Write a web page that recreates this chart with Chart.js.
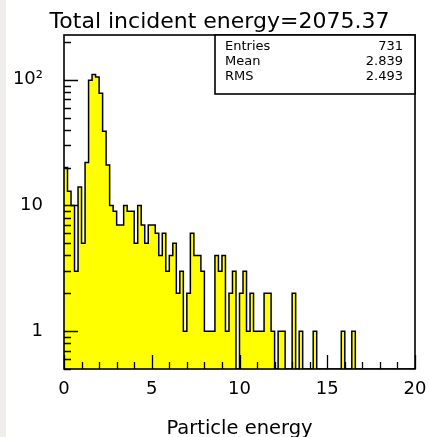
<!DOCTYPE html>
<html>
<head>
<meta charset="utf-8">
<script src="https://cdn.jsdelivr.net/npm/chart.js@4.4.1/dist/chart.umd.min.js"></script>
<style>
  html, body { margin: 0; padding: 0; background: #efeeec; }
  #pad { position: absolute; left: 6px; top: 0; width: 423px; height: 437px; background: #fff; }
</style>
</head>
<body>
<div id="pad"><canvas id="c" width="423" height="437"></canvas></div>
<script>
// energy spectrum, 100 bins from 0 to 20
const xLow = 0;
const xHigh = 20;
const counts = [
  20, 13, 10, 3, 14, 5, 22, 99, 110, 105,
  78, 39, 21, 10, 9, 7, 7, 10, 9, 9,
  5, 10, 7, 5, 7, 7, 6, 4, 6, 3,
  4, 5, 2, 3, 1, 2, 6, 4, 4, 3,
  1, 1, 1, 4, 3, 4, 1, 2, 3, 0,
  2, 3, 1, 2, 1, 1, 1, 2, 2, 1,
  0, 1, 1, 0, 0, 2, 0, 1, 0, 0,
  0, 1, 0, 0, 0, 0, 0, 0, 0, 1,
  0, 0, 1, 0, 0, 0, 0, 0, 0, 0,
  0, 0, 0, 0, 0, 0, 0, 0, 0, 0
];
const yMin = 0.5;
const yMax = 227;
const xTickValues = [0, 5, 10, 15, 20];
const yTickValues = [1, 10, 100];
const yTickLabels = ['1', '10', '10\u00b2'];
const statNames = ['Entries', 'Mean', 'RMS'];
const statValues = ['731', '2.839', '2.493'];
const titleText = 'Total incident energy=2075.37';
const xTitle = 'Particle energy';

const FONT = 'DejaVu Sans';

// left edge of every bin, plus the closing edge
const binWidth = (xHigh - xLow) / counts.length;
const points = counts.map((c, i) => ({ x: xLow + i * binWidth, y: c > 0 ? c : yMin }));
points.push({ x: xHigh, y: points[points.length - 1].y });

// frame, inward tick marks and the stats box
const histFrame = {
  id: 'histFrame',
  afterDatasetsDraw(chart) {
    const { ctx, chartArea: a, scales: { x, y } } = chart;
    ctx.save();
    ctx.strokeStyle = '#000';
    ctx.lineWidth = 1.3;
    ctx.beginPath();
    for (let v = xLow; v <= xHigh; v++) {
      const px = Math.round(x.getPixelForValue(v)) + 0.5;
      const len = v % 5 === 0 ? 14 : 7;
      ctx.moveTo(px, a.bottom);
      ctx.lineTo(px, a.bottom - len);
    }
    [0.1, 1, 10, 100].forEach(d => {
      for (let m = 1; m <= 9; m++) {
        const v = d * m;
        if (v < yMin || v > yMax) continue;
        const py = Math.round(y.getPixelForValue(v)) + 0.5;
        const len = m === 1 ? 14 : 7;
        ctx.moveTo(a.left, py);
        ctx.lineTo(a.left + len, py);
      }
    });
    ctx.stroke();

    ctx.lineWidth = 1.6;
    ctx.strokeRect(a.left, a.top, a.right - a.left, a.bottom - a.top);

    // statistics box in the top right corner
    const bx = a.right - 200, by = a.top, bw = 200, bh = 59;
    ctx.fillStyle = '#fff';
    ctx.fillRect(bx, by, bw, bh);
    ctx.strokeRect(bx, by, bw, bh);
    ctx.fillStyle = '#000';
    ctx.font = '13px "' + FONT + '"';
    ctx.textBaseline = 'alphabetic';
    statNames.forEach((name, i) => {
      const ty = by + 15 + i * 15;
      ctx.textAlign = 'left';
      ctx.fillText(name, bx + 10, ty);
      ctx.textAlign = 'right';
      ctx.fillText(statValues[i], a.right - 12, ty);
    });
    ctx.restore();
  }
};

new Chart(document.getElementById('c'), {
  type: 'line',
  data: {
    datasets: [{
      data: points,
      stepped: 'before',
      fill: 'start',
      backgroundColor: '#ffff00',
      borderColor: '#000',
      borderWidth: 1.5,
      pointRadius: 0
    }]
  },
  options: {
    responsive: false,
    animation: false,
    layout: { padding: { left: 4, right: 0, top: 0, bottom: 0 } },
    plugins: {
      legend: { display: false },
      tooltip: { enabled: false },
      title: {
        display: true,
        text: titleText,
        color: '#000',
        font: { family: FONT, size: 22, weight: 'normal', lineHeight: 1 },
        padding: { top: 11.5, bottom: 1.5 }
      }
    },
    scales: {
      x: {
        type: 'linear',
        min: xLow,
        max: xHigh,
        afterBuildTicks: s => { s.ticks = xTickValues.map(v => ({ value: v })); },
        // room on the right for the last tick label
        afterFit: s => { s.height = 68; s.paddingLeft = 0; s.paddingRight = 14; },
        grid: { display: false, drawTicks: false },
        border: { display: false },
        ticks: { color: '#000', font: { family: FONT, size: 18 }, padding: 10, maxRotation: 0, autoSkip: false },
        title: { display: true, text: xTitle, color: '#000', font: { family: FONT, size: 19.5, lineHeight: 1 }, padding: { top: 0, bottom: -2 } }
      },
      y: {
        type: 'logarithmic',
        min: yMin,
        max: yMax,
        afterBuildTicks: s => { s.ticks = yTickValues.map(v => ({ value: v })); },
        afterFit: s => { s.width = 54; s.paddingTop = 0; s.paddingBottom = 0; },
        grid: { display: false, drawTicks: false },
        border: { display: false },
        ticks: {
          color: '#000',
          font: { family: FONT, size: 18 },
          padding: 21,
          autoSkip: false,
          callback: v => { const i = yTickValues.indexOf(v); return i >= 0 ? yTickLabels[i] : ''; }
        }
      }
    }
  },
  plugins: [histFrame]
});
</script>
</body>
</html>
